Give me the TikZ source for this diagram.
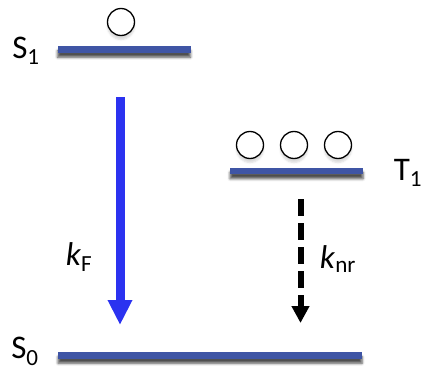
\documentclass[tikz,border=0pt]{standalone}
\usepackage{fontspec}
\setmainfont{Carlito}
\usetikzlibrary{arrows.meta,shadows.blur}

\definecolor{levelblue}{RGB}{63,85,165}
\definecolor{fluorblue}{RGB}{43,50,240}

\begin{document}
\begin{tikzpicture}[x=1pt,y=-1pt,
    level/.style={fill=levelblue, minimum height=6.5pt, inner sep=0pt,
      blur shadow={shadow xshift=0pt, shadow yshift=-4.5pt,
        shadow blur radius=2.5pt, shadow opacity=70}},
    popul/.style={draw, circle, line width=1.3pt, minimum size=27pt,
      inner sep=0pt, fill=white,
      blur shadow={shadow xshift=0pt, shadow yshift=-4pt, shadow opacity=15}},
    lbl/.style={font=\fontsize{33}{36}\selectfont, inner sep=0pt},
    radiative/.style={fluorblue, line width=9pt,
      -{Triangle[width=23pt,length=25pt]}},
    nonrad/.style={black, line width=6pt, dash pattern=on 17pt off 7pt,
      -{Triangle[width=17pt,length=17pt]}}]

  \useasboundingbox (0,0) rectangle (426,372);

  % energy levels
  \node[level, minimum width=133pt] (s1) at (124,49.5) {};
  \node[level, minimum width=133pt] (t1) at (296.5,171) {};
  \node[level, minimum width=304pt] (s0) at (210,355.5) {};

  \node[lbl] (s1lbl) at (26,51) {S\textsubscript{1}};
  \node[lbl] (t1lbl) at (408,173) {T\textsubscript{1}};
  \node[lbl] (s0lbl) at (25,351.5) {S\textsubscript{0}};

  % populations
  \node[popul] (p1) at (121,22) {};
  \node[popul] (p2) at (250,145) {};
  \node[popul] (p3) at (294,145) {};
  \node[popul] (p4) at (338,145) {};

  % decay channels
  \coordinate (kftop) at (120,97);
  \coordinate (kftip) at (120,325);
  \coordinate (knrtop) at (300.5,199);
  \coordinate (knrtip) at (300.5,323);

  \draw[radiative] (kftop) -- (kftip);
  \draw[nonrad] (knrtop) -- (knrtip);

  \node[lbl] (kf) at (79,257) {\textit{k}\textsubscript{F}};
  \node[lbl] (knr) at (338,259) {\textit{k}\textsubscript{nr}};
\end{tikzpicture}
\end{document}
